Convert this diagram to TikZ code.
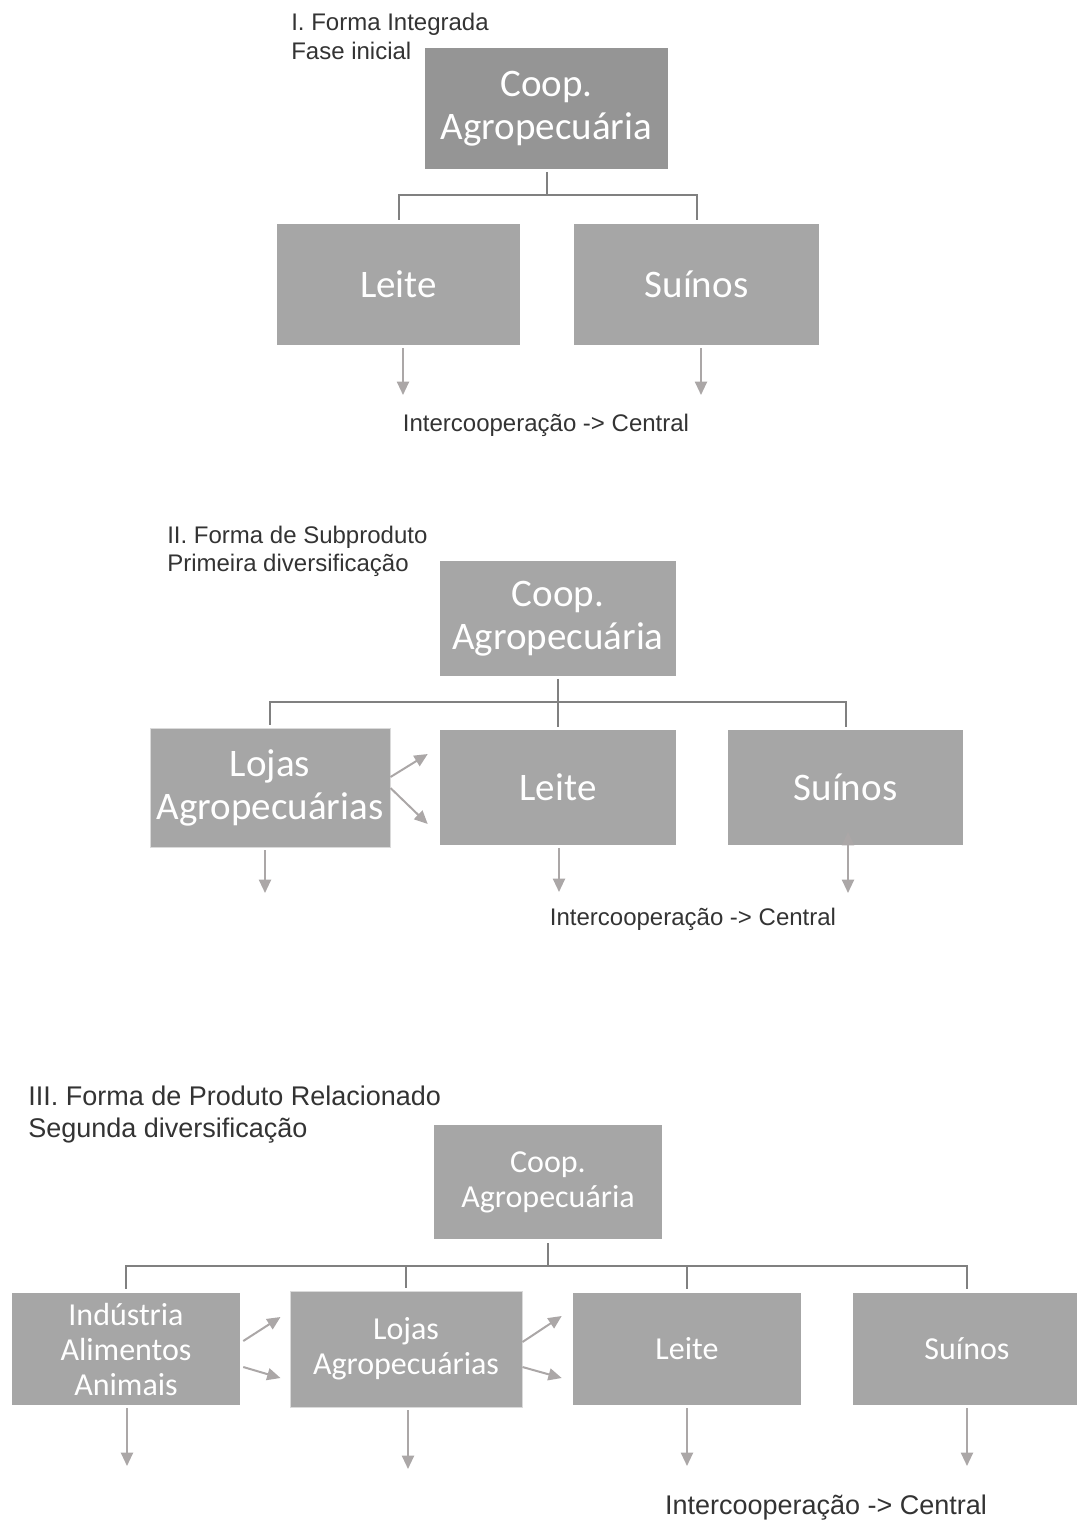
\documentclass[tikz,border=0pt]{standalone}
\usepackage{fontspec}
\setmainfont{Liberation Sans}
\newfontfamily\boxfont{Carlito}
\usetikzlibrary{arrows.meta,calc}

\definecolor{boxgray}{HTML}{A6A6A6}
\definecolor{topgray}{HTML}{959595}
\definecolor{edgegray}{HTML}{DADADA}
\definecolor{treeline}{HTML}{808080}
\definecolor{arrowgray}{HTML}{ABA7A7}
\definecolor{labeltext}{HTML}{333333}

\tikzset{
  boxdim/.style 2 args={minimum width=#1*0.75pt, minimum height=#2*0.75pt},
  orgbox/.style={fill=boxgray, draw=none, inner sep=0pt, align=center,
    text=white, font=\boxfont\fontsize{29.25}{32.25}\selectfont},
  smallbox/.style={orgbox, font=\boxfont\fontsize{24}{26.25}\selectfont},
  outlined/.style={draw=edgegray, line width=0.75pt},
  tree/.style={draw=treeline, line width=1.5pt},
  flow/.style={draw=arrowgray, line width=1.5pt,
    -{Triangle[length=10pt,width=9pt]}},
  caption/.style={text=labeltext, align=left, anchor=base west, inner sep=0pt},
  note/.style={text=labeltext, anchor=base, inner sep=0pt,
    font=\fontsize{18}{21}\selectfont},
}

\begin{document}
\begin{tikzpicture}[x=0.75pt,y=-0.75pt]
\useasboundingbox (0,0) rectangle (1077,1522);

% ---------- I. Forma Integrada ----------
\node[caption, font=\fontsize{18}{21.75}\selectfont] (t1) at (291,59)
  {I. Forma Integrada\\Fase inicial};
\node[orgbox, fill=topgray, boxdim={243}{121}] (coop1) at (546.5,108.5) {Coop.\\Agropecuária};
\node[orgbox, boxdim={243}{121}] (leite1) at (398.5,284.5) {Leite};
\node[orgbox, boxdim={245}{121}] (suinos1) at (696.5,284.5) {Suínos};

\coordinate (j1) at (546.5,195);
\draw[tree, shorten <=2pt] (coop1.south) -- (j1);
\draw[tree, shorten <=3pt, shorten >=3pt] (leite1.north) |- (j1) -| (suinos1.north);

\coordinate (d1a) at (403,395);
\coordinate (d1b) at (701,395);
\draw[flow, shorten <=2pt] (leite1.south -| d1a) -- (d1a);
\draw[flow, shorten <=2pt] (suinos1.south -| d1b) -- (d1b);
\node[note] (ic1) at (546,431) {Intercooperação -> Central};

% ---------- II. Forma de Subproduto ----------
\node[caption, font=\fontsize{18}{21}\selectfont] (t2) at (167,571)
  {II. Forma de Subproduto\\Primeira diversificação};
\node[orgbox, boxdim={236}{115}] (coop2) at (558,618.5) {Coop.\\Agropecuária};
\node[orgbox, outlined, boxdim={240}{119}] (lojas2) at (270,787.5) {Lojas\\Agropecuárias};
\node[orgbox, boxdim={236}{115}] (leite2) at (558,787.5) {Leite};
\node[orgbox, boxdim={235}{115}] (suinos2) at (845.5,787.5) {Suínos};

\coordinate (j2) at (558,702);
\draw[tree, shorten <=2pt, shorten >=2pt] (coop2.south) -- (leite2.north);
\draw[tree, shorten <=2pt, shorten >=2pt] (lojas2.north) |- (j2) -| (suinos2.north);

\draw[flow] ($(lojas2.east)+(0,-10.5)$) -- ($(leite2.west)+(-12,-33.5)$);
\draw[flow] ($(lojas2.east)+(0,0.5)$) -- ($(leite2.west)+(-12,36.5)$);

\coordinate (d2a) at (265,893);
\coordinate (d2b) at (559,892);
\coordinate (d2c) at (848,893);
\coordinate (u2c) at (848,832);
\draw[flow, shorten <=2pt] (lojas2.south -| d2a) -- (d2a);
\draw[flow, shorten <=2pt] (leite2.south -| d2b) -- (d2b);
\draw[flow, {Triangle[length=10pt,width=9pt]}-{Triangle[length=10pt,width=9pt]}] (u2c) -- (d2c);
\node[note] (ic2) at (693,925) {Intercooperação -> Central};

% ---------- III. Forma de Produto Relacionado ----------
\node[caption, font=\fontsize{20.25}{24}\selectfont] (t3) at (28,1137)
  {III. Forma de Produto Relacionado\\Segunda diversificação};
\node[smallbox, boxdim={228}{114}] (coop3) at (548,1182) {Coop.\\Agropecuária};
\node[smallbox, boxdim={228}{112}] (ind3) at (126,1349) {Indústria\\Alimentos\\Animais};
\node[smallbox, outlined, boxdim={232}{116}] (lojas3) at (406,1349) {Lojas\\Agropecuárias};
\node[smallbox, boxdim={228}{112}] (leite3) at (687,1349) {Leite};
\node[smallbox, boxdim={228}{112}] (suinos3) at (967,1349) {Suínos};

\coordinate (j3) at (548,1266);
\draw[tree, shorten <=3pt] (coop3.south) -- (j3);
\draw[tree, shorten <=3pt, shorten >=3pt] (ind3.north) |- (j3) -| (suinos3.north);
\draw[tree, shorten <=2pt] (lojas3.north) -- (lojas3.north |- j3);
\draw[tree, shorten <=3pt] (leite3.north) -- (leite3.north |- j3);

\draw[flow] ($(ind3.east)+(3,-8)$) -- ($(lojas3.west)+(-9,-32)$);
\draw[flow] ($(ind3.east)+(3,18)$) -- ($(lojas3.west)+(-9,29)$);
\draw[flow] ($(lojas3.east)+(0,-7)$) -- ($(leite3.west)+(-11,-33)$);
\draw[flow] ($(lojas3.east)+(0,18)$) -- ($(leite3.west)+(-11,29)$);

\coordinate (d3a) at (127,1466);
\coordinate (d3b) at (408,1469);
\coordinate (d3c) at (687,1466);
\coordinate (d3d) at (967,1466);
\draw[flow, shorten <=2pt] (ind3.south -| d3a) -- (d3a);
\draw[flow, shorten <=2pt] (lojas3.south -| d3b) -- (d3b);
\draw[flow, shorten <=2pt] (leite3.south -| d3c) -- (d3c);
\draw[flow, shorten <=2pt] (suinos3.south -| d3d) -- (d3d);
\node[note, font=\fontsize{20.25}{24}\selectfont] (ic3) at (826,1514)
  {Intercooperação -> Central};
\end{tikzpicture}
\end{document}
